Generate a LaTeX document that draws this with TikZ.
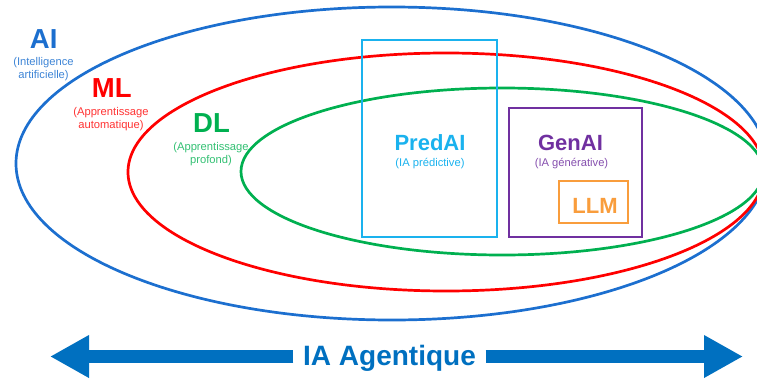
\documentclass[tikz,border=0pt]{standalone}
\usepackage{fontspec}
\setmainfont{Liberation Sans}
\usetikzlibrary{arrows.meta}

\definecolor{aiblue}{HTML}{1C6FCF}
\definecolor{mlred}{HTML}{FF0000}
\definecolor{dlgreen}{HTML}{00B050}
\definecolor{predblue}{HTML}{1AB2EE}
\definecolor{genpurple}{HTML}{7030A0}
\definecolor{llmorange}{HTML}{F99D3C}
\definecolor{agentblue}{HTML}{0070C0}

\begin{document}
\begin{tikzpicture}[x=1pt,y=-1pt,
  ring/.style={line width=2.7pt},
  box/.style={draw, line width=2.7pt, inner sep=0pt},
  bigtitle/.style={font=\fontsize{27.5}{30}\selectfont\bfseries, inner sep=0pt, anchor=base},
  boxtitle/.style={font=\fontsize{22}{26}\selectfont\bfseries, inner sep=0pt, anchor=base},
  note/.style={font=\fontsize{11.2}{13}\selectfont, align=center, inner sep=0pt, anchor=north},
  boxnote/.style={font=\fontsize{11.2}{13}\selectfont, inner sep=0pt, anchor=base},
  band/.style={draw=agentblue, line width=13pt, -{Triangle[length=39pt,width=40pt]}}
]
\useasboundingbox (0,0) rectangle (757,380);
\clip (0,0) rectangle (757,380);

% nested fields as ellipses
\draw[ring, aiblue]  (391.8,163.5) ellipse [x radius=375.8pt, y radius=156.5pt];
\draw[ring, mlred]   (446.1,172)   ellipse [x radius=318.1pt, y radius=119pt];
\draw[ring, dlgreen] (502.2,171.5) ellipse [x radius=261.2pt, y radius=83.5pt];

% field labels
\node[bigtitle, text=aiblue] (ai) at (43.7,48) {AI};
\node[note, text=aiblue!85!white] (aisub) at (43.5,57.5) {(Intelligence\\artificielle)};
\node[bigtitle, text=mlred] (ml) at (111.7,97) {ML};
\node[note, text=mlred!80!white] (mlsub) at (111,107) {(Apprentissage\\automatique)};
\node[bigtitle, text=dlgreen] (dl) at (211.5,132) {DL};
\node[note, text=dlgreen!80!white] (dlsub) at (211,142.5) {(Apprentissage\\profond)};

% boxes
\node[box, draw=predblue, minimum width=135pt, minimum height=197pt] (predbox) at (429.5,138.5) {};
\node[box, draw=genpurple, minimum width=133pt, minimum height=129pt] (genbox) at (575.5,172.5) {};
\node[box, draw=llmorange, minimum width=69pt, minimum height=42pt] (llmbox) at (593.5,202) {};

\node[boxtitle, text=predblue] (pred) at (430,150) {PredAI};
\node[boxnote, text=predblue] (predsub) at (430,166) {(IA prédictive)};
\node[boxtitle, text=genpurple] (gen) at (570.5,150) {GenAI};
\node[boxnote, text=genpurple!85!white] (gensub) at (571.5,166) {(IA générative)};
\node[boxtitle, text=llmorange] (llm) at (595,213) {LLM};

% agentic band
\node[font=\fontsize{28}{32}\selectfont\bfseries, text=agentblue, inner xsep=9.5pt, inner ysep=0pt, anchor=base] (agent) at (389.5,365) {IA Agentique};
\coordinate (leftend) at (50,356.5);
\coordinate (rightend) at (743,356.5);
\draw[band] (agent.west |- leftend) -- (leftend);
\draw[band] (agent.east |- rightend) -- (rightend);
\end{tikzpicture}
\end{document}
